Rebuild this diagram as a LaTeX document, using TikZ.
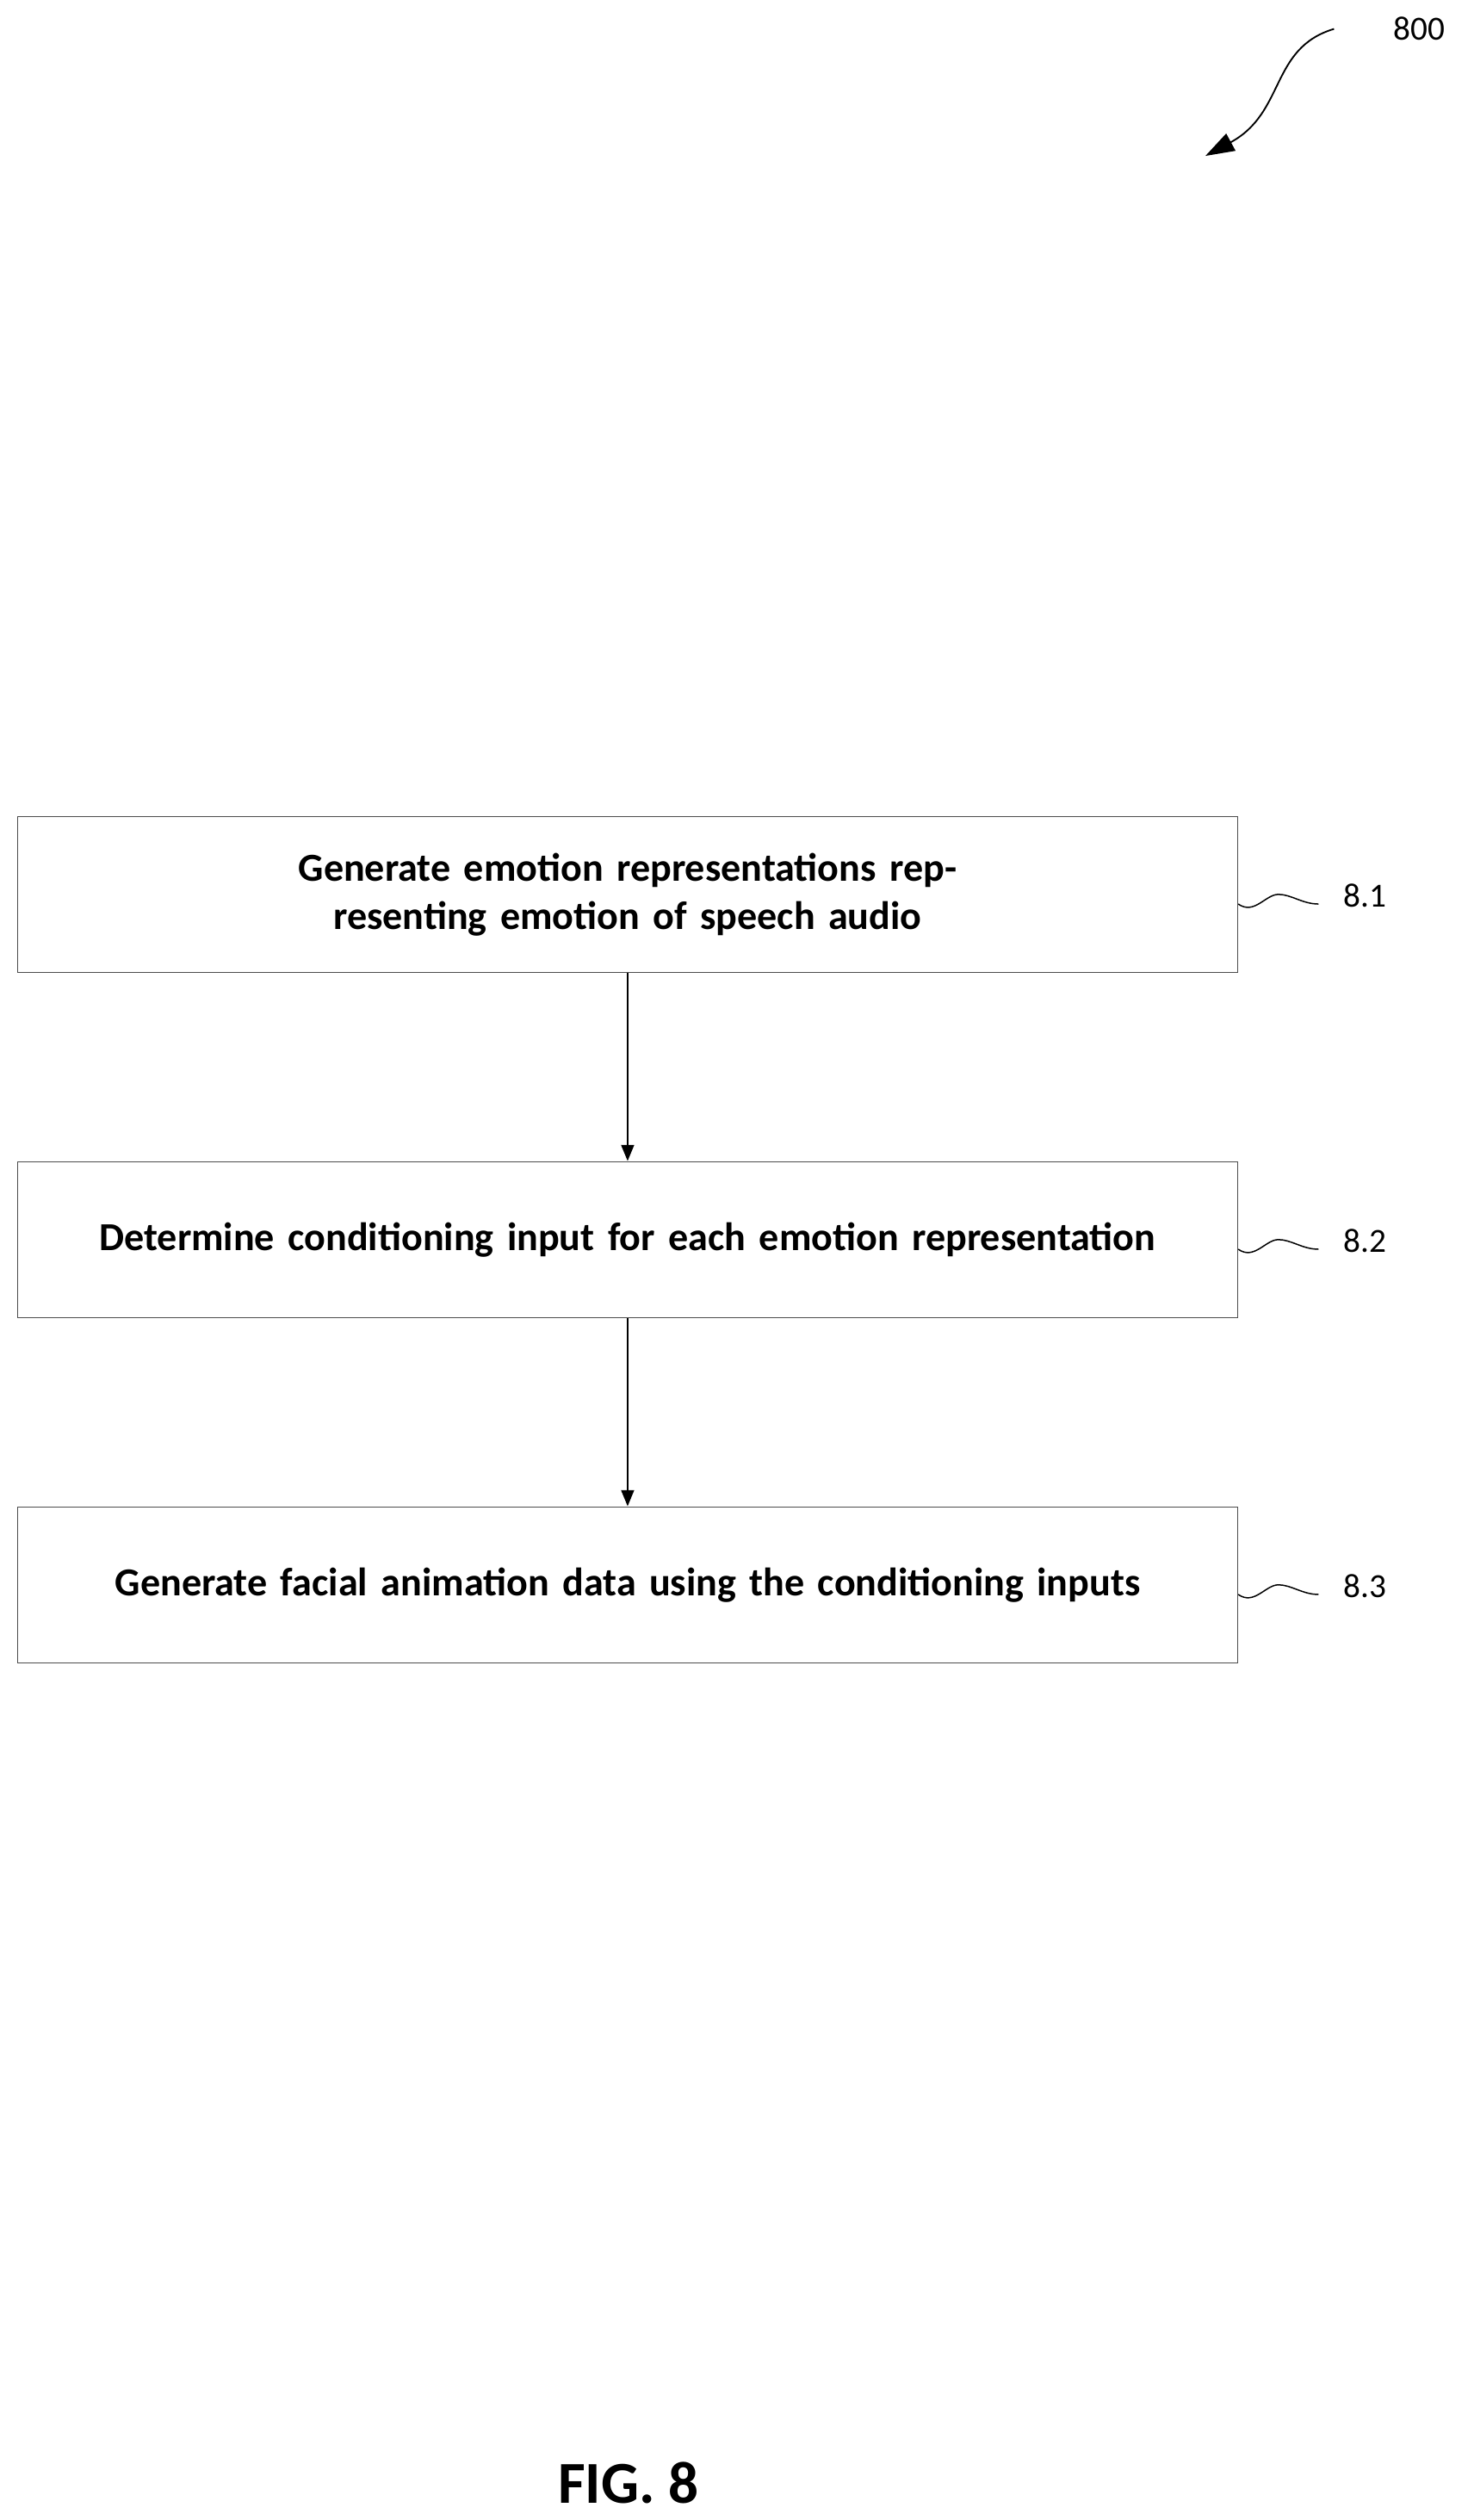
\documentclass[tikz,border=0pt]{standalone}
\usepackage{fontspec}
\setmainfont{Carlito}
\usetikzlibrary{positioning,arrows.meta}
\tikzset{
  stepbox/.style={draw=black!70,line width=0.8pt,minimum width=759pt,minimum height=97pt,
    align=center,text width=725pt,font=\fontsize{24.7}{30}\selectfont\bfseries},
  flow/.style={-{Triangle[length=10pt,width=8pt]},line width=1pt},
  tag/.style={font=\fontsize{21}{25}\selectfont}
}
\begin{document}
\begin{tikzpicture}[x=1pt,y=-1pt]
\useasboundingbox (0,0) rectangle (913,1568);
% Steps
\node[stepbox] (s1) at (390.5,556.5) {Generate emotion representations representing emotion of speech audio};
\node[stepbox,below=117pt of s1] (s2) {Determine conditioning input for each emotion representation};
\node[stepbox,below=117pt of s2] (s3) {Generate facial animation data using the conditioning inputs};
\draw[flow] (s1) -- (s2);
\draw[flow] (s2) -- (s3);

% Reference labels
\foreach \s/\t in {s1/8.1,s2/8.2,s3/8.3}{
  \node[tag,anchor=west] (l\s) at ([xshift=62pt,yshift=-1pt]\s.east) {\t};
  \draw[line width=0.8pt] ([yshift=-6pt]\s.east) .. controls +(10,7) and +(-8,0) .. +(25,-6)
    .. controls +(8,0) and +(-10,0) .. +(50,0);
}

% Figure number
\node[tag,anchor=center] (n800) at (883,18) {800};
\coordinate (c800) at (830,18);
\coordinate (e800) at (750,97);
\draw[-{Triangle[length=18pt,width=12pt]},line width=1pt] (c800) .. controls (790,30) and (800,70) .. (e800);
\node[font=\fontsize{37}{44}\selectfont\bfseries] (fig) at (391,1545) {FIG. 8};
\end{tikzpicture}
\end{document}
